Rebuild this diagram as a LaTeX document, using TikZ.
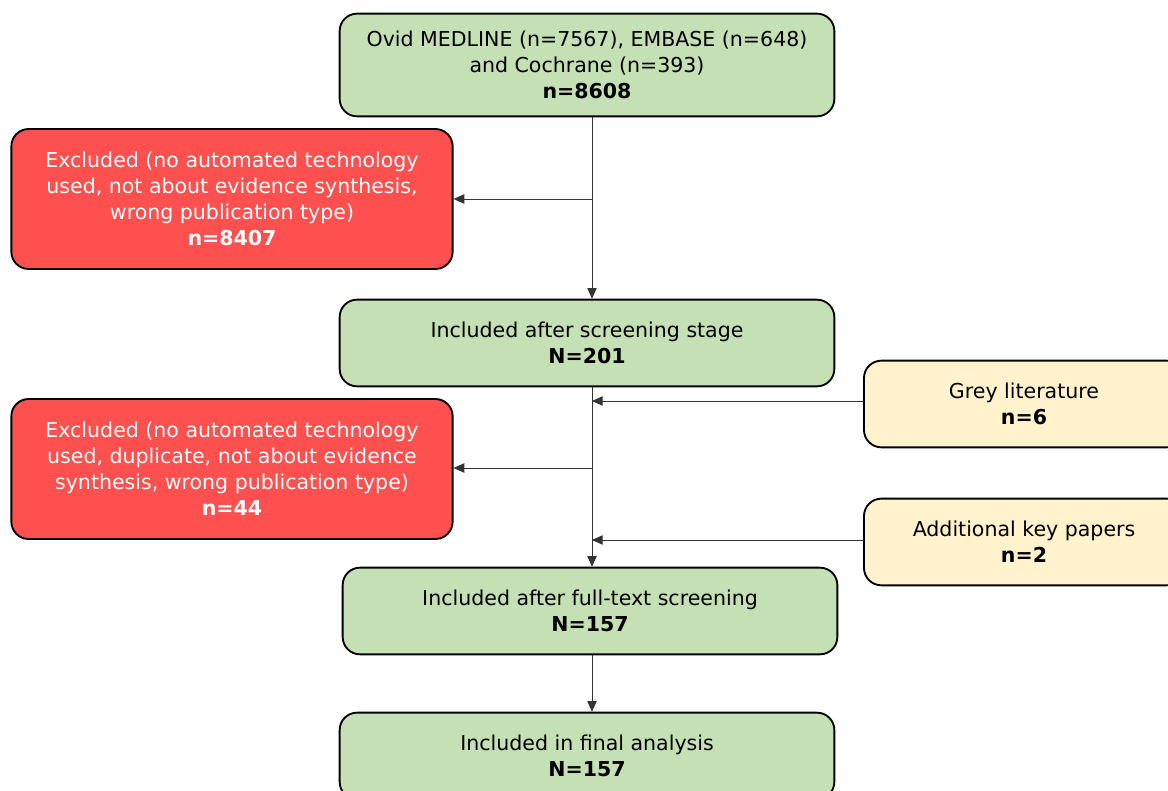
\documentclass[tikz,border=0pt]{standalone}
\usepackage{fontspec}
\setmainfont{DejaVu Sans}
\usetikzlibrary{arrows.meta}
\definecolor{boxgreen}{HTML}{C5E0B4}
\definecolor{boxred}{HTML}{FF5050}
\definecolor{boxyellow}{HTML}{FFF2CC}
\tikzset{
  box/.style={draw=black, line width=1.4pt, rounded corners=13pt, align=center,
    font=\fontsize{15.4pt}{19.6pt}\selectfont, inner sep=0pt},
  greenbox/.style={box, fill=boxgreen, minimum width=371pt, minimum height=65pt},
  redbox/.style={box, fill=boxred, text=white, minimum width=331pt, minimum height=105pt},
  yellowbox/.style={box, fill=boxyellow, minimum width=240pt, minimum height=65pt},
  flow/.style={line width=0.7pt, black!80, -{Triangle[width=7pt,length=8pt]}}
}
\begin{document}
\begin{tikzpicture}[x=0.75pt, y=-0.75pt]
		%%%%% START %%%%%
		\useasboundingbox (0, 0) rectangle (1168, 791);
		\clip (0, 0) rectangle (1168, 791);
		
		\node[greenbox, minimum height=77pt] (src) at (587, 65)
		  {Ovid MEDLINE (n=7567), EMBASE (n=648)\\and Cochrane (n=393)\\\textbf{n=8608}};
		\node[redbox] (excl1) at (232, 199)
		  {Excluded (no automated technology\\used, not about evidence synthesis,\\wrong publication type)\\\textbf{n=8407}};
		\node[greenbox] (screen) at (587, 343)
		  {Included after screening stage\\\textbf{N=201}};
		\node[yellowbox] (grey) at (1024, 404)
		  {Grey literature\\\textbf{n=6}};
		\node[redbox] (excl2) at (232, 469)
		  {Excluded (no automated technology\\used, duplicate, not about evidence\\synthesis, wrong publication type)\\\textbf{n=44}};
		\node[yellowbox] (extra) at (1024, 542)
		  {Additional key papers\\\textbf{n=2}};
		\node[greenbox] (fulltext) at (590, 611)
		  {Included after full-text screening\\\textbf{N=157}};
		\node[greenbox] (final) at (587, 756)
		  {Included in final analysis\\\textbf{N=157}};
		
		% spine points
		\coordinate (j1) at (592, 199);
		\coordinate (j2) at (592, 401);
		\coordinate (j3) at (592, 468);
		\coordinate (j4) at (592, 540);
		
		\draw[flow] (src.south -| j1) -- (screen.north -| j1);
		\draw[flow] (j1) -- (excl1.east |- j1);
		
		\draw[flow] (screen.south -| j2) -- (fulltext.north -| j2);
		\draw[flow] (grey.west |- j2) -- (j2);
		\draw[flow] (j3) -- (excl2.east |- j3);
		\draw[flow] (extra.west |- j4) -- (j4);
		
		\draw[flow] (fulltext.south -| j1) -- (final.north -| j1);
		
		%%%%% END %%%%%
	\end{tikzpicture}
\end{document}
